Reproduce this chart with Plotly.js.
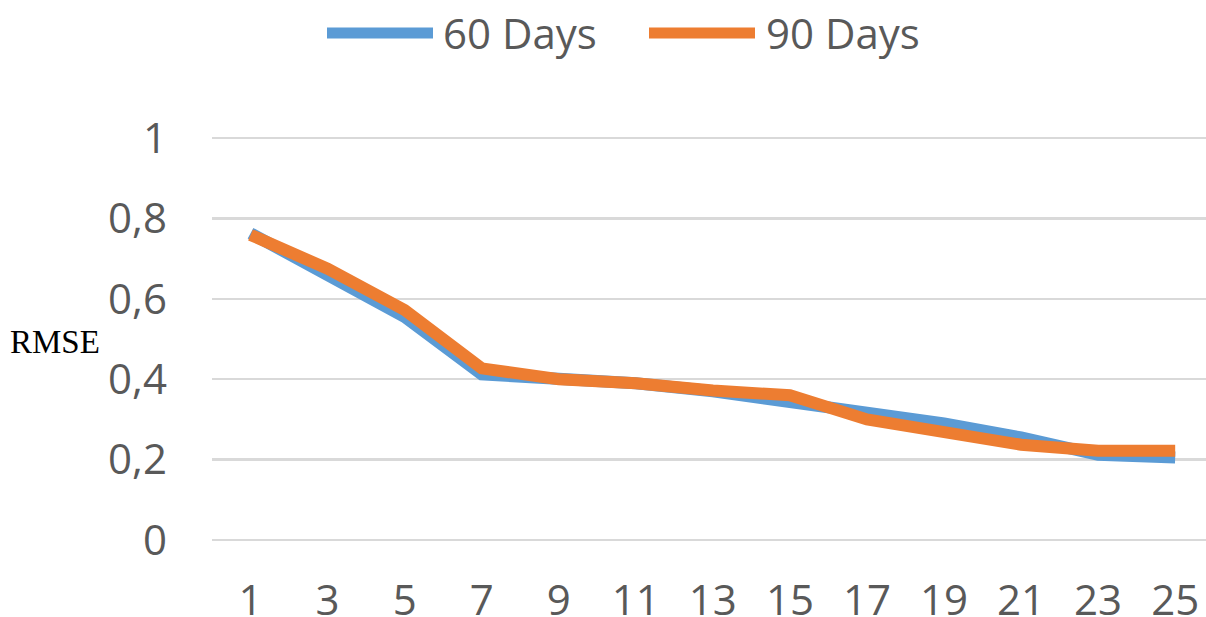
<!DOCTYPE html>
<html>
<head>
<meta charset="utf-8">
<script src="https://cdn.plot.ly/plotly-3.0.1.min.js"></script>
<style>
  html, body { margin: 0; padding: 0; background: #ffffff; overflow: hidden; }
  #chart { width: 1206px; height: 617px; }
</style>
</head>
<body>
<div id="chart"></div>
<script>
const categories = ["1", "3", "5", "7", "9", "11", "13", "15", "17", "19", "21", "23", "25"];
const days60 = [0.763, 0.660, 0.555, 0.412, 0.400, 0.390, 0.370, 0.345, 0.315, 0.290, 0.255, 0.212, 0.205];
const days90 = [0.759, 0.675, 0.572, 0.427, 0.400, 0.390, 0.372, 0.360, 0.300, 0.272, 0.237, 0.222, 0.222];
const yTickValues = [0, 0.2, 0.4, 0.6, 0.8, 1];
const yTickLabels = ["0", "0,2", "0,4", "0,6", "0,8", "1"];
const seriesNames = ["60 Days", "90 Days"];
const seriesColors = ["#5B9BD5", "#ED7D31"];

const tickFont = { family: "Open Sans, sans-serif", size: 42, color: "#595959" };

const traces = [
  { x: categories, y: days60, name: seriesNames[0], type: "scatter", mode: "lines",
    line: { color: seriesColors[0], width: 12 }, showlegend: false },
  { x: categories, y: days90, name: seriesNames[1], type: "scatter", mode: "lines",
    line: { color: seriesColors[1], width: 12 }, showlegend: false }
];

// plot area: x 212..1206 px, y 136..542 px (range padded so the 0 and 1 gridlines show)
const L = 212, R = 1206, T = 136, B = 542;
const px = v => (v - L) / (R - L);
const py = v => (B - v) / (B - T);

const layout = {
  width: 1206, height: 617,
  margin: { l: L, r: 1206 - R, t: T, b: 617 - B, pad: 0 },
  paper_bgcolor: "#ffffff", plot_bgcolor: "#ffffff",
  showlegend: false,
  xaxis: {
    type: "category", range: [-0.5, 12.4],
    showgrid: false, zeroline: false, showline: false, ticks: "",
    tickfont: tickFont, ticklabelstandoff: 30, fixedrange: true
  },
  yaxis: {
    range: [-0.005, 1.005], tickvals: yTickValues, ticktext: yTickLabels,
    showgrid: true, gridcolor: "#d9d9d9", gridwidth: 2.5,
    zeroline: false, showline: false, ticks: "",
    tickfont: tickFont, ticklabelstandoff: 44, fixedrange: true
  },
  shapes: [
    { type: "line", xref: "paper", yref: "paper", x0: px(327), x1: px(433), y0: py(33), y1: py(33),
      line: { color: seriesColors[0], width: 11 } },
    { type: "line", xref: "paper", yref: "paper", x0: px(649), x1: px(755), y0: py(33), y1: py(33),
      line: { color: seriesColors[1], width: 11 } }
  ],
  annotations: [
    { xref: "paper", yref: "paper", x: px(441), y: py(33), xanchor: "left", yanchor: "middle",
      text: seriesNames[0], showarrow: false, font: tickFont },
    { xref: "paper", yref: "paper", x: px(764), y: py(33), xanchor: "left", yanchor: "middle",
      text: seriesNames[1], showarrow: false, font: tickFont },
    { xref: "paper", yref: "paper", x: px(8), y: py(342), xanchor: "left", yanchor: "middle",
      text: "RMSE", showarrow: false,
      font: { family: "Liberation Serif, Times New Roman, serif", size: 33, color: "#000000" } }
  ]
};

Plotly.newPlot("chart", traces, layout, { displayModeBar: false, staticPlot: true });
</script>
</body>
</html>
